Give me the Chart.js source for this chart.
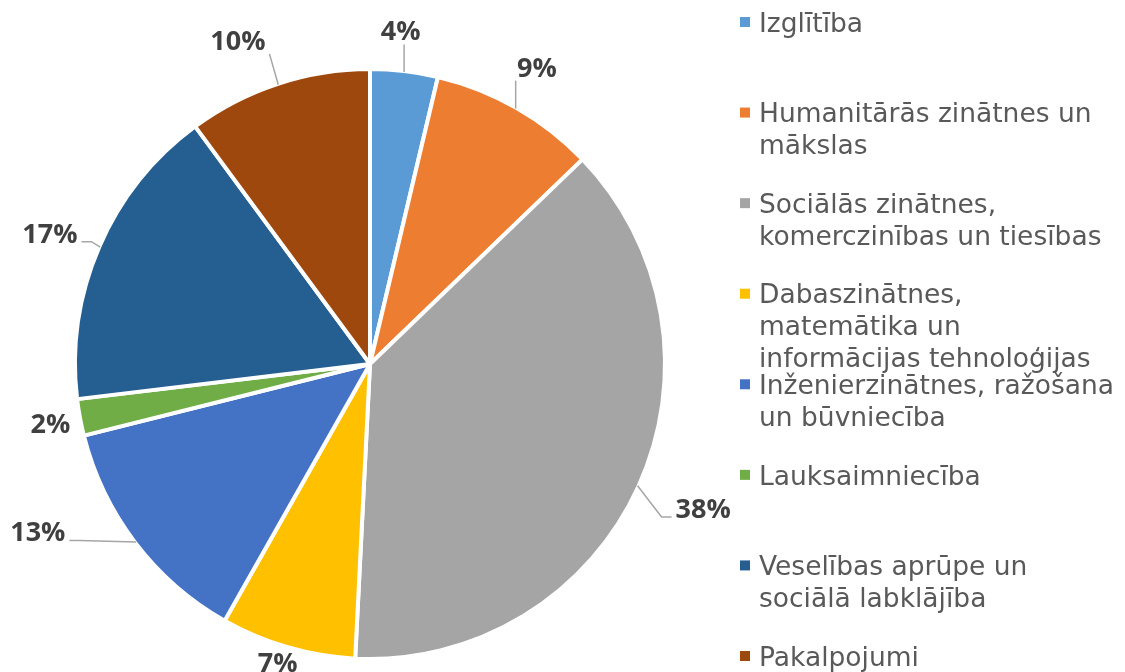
<!DOCTYPE html>
<html>
<head>
<meta charset="utf-8">
<script src="https://cdn.jsdelivr.net/npm/chart.js@4"></script>
<style>
  body { margin: 0; background: #fff; }
  #wrap { width: 1125px; height: 672px; }
</style>
</head>
<body>
<div id="wrap"><canvas id="pie"></canvas></div>
<script>
// ---------- data ----------
const categories = [
  "Izglītība",
  "Humanitārās zinātnes un mākslas",
  "Sociālās zinātnes, komerczinības un tiesības",
  "Dabaszinātnes, matemātika un informācijas tehnoloģijas",
  "Inženierzinātnes, ražošana un būvniecība",
  "Lauksaimniecība",
  "Veselības aprūpe un sociālā labklājība",
  "Pakalpojumi",
];
const shares = [3.7, 9.1, 38.0, 7.4, 12.9, 2.0, 16.8, 10.1];
const colors = ["#5B9BD5", "#ED7D31", "#A5A5A5", "#FFC000", "#4472C4", "#70AD47", "#255E91", "#9E480E"];

// label placement (distance outside the pie, angle shift in degrees)
const labelOut = [42, 48, 70, 19, 79, 32, 53, 57];
const labelShift = [-1.4, -0.4, -1.1, 1.0, 10.5, 0, -1.1, -4.0];

// ---------- percent labels with leader lines ----------
const pctLabels = {
  id: "pctLabels",
  afterDatasetsDraw(chart) {
    const ctx = chart.ctx;
    const total = shares.reduce((a, v) => a + v, 0);
    const meta = chart.getDatasetMeta(0);
    ctx.save();
    ctx.font = "bold 27px 'Open Sans'";
    ctx.textAlign = "center";
    ctx.textBaseline = "alphabetic";
    meta.data.forEach((arc, i) => {
      const { x, y, startAngle, endAngle, outerRadius } = arc.getProps(["x", "y", "startAngle", "endAngle", "outerRadius"], true);
      const r = outerRadius - 2;
      const mid = (startAngle + endAngle) / 2;
      const a = mid + (labelShift[i] * Math.PI) / 180;
      const cx = x + Math.cos(a) * (r + labelOut[i]);
      const cy = y + Math.sin(a) * (r + labelOut[i]);
      const txt = Math.round((shares[i] / total) * 100) + "%";
      const w = ctx.measureText(txt).width;

      if (labelOut[i] > 38) {
        const px = x + Math.cos(mid) * (r + 1);
        const py = y + Math.sin(mid) * (r + 1);
        ctx.strokeStyle = "#A6A6A6";
        ctx.lineWidth = 1.5;
        ctx.beginPath();
        ctx.moveTo(px, py);
        if (Math.abs(cx - px) > Math.abs(cy - py)) {
          const dir = cx > px ? -1 : 1;
          const ex = cx + dir * (w / 2 + 4);
          const ey = cy + 9;
          ctx.lineTo(ex + dir * 10, ey);
          ctx.lineTo(ex, ey);
        } else {
          const ex = Math.min(Math.max(px, cx - w / 2 - 4), cx + w / 2 + 4);
          const ey = cy > py ? cy - 14 : cy + 14;
          ctx.lineTo(ex, ey);
        }
        ctx.stroke();
      }
      ctx.fillStyle = "#404040";
      ctx.fillText(txt, cx, cy + 10);
    });
    ctx.restore();
  },
};

// ---------- legend on the right ----------
const sideLegend = {
  id: "sideLegend",
  afterDraw(chart) {
    const ctx = chart.ctx;
    ctx.save();
    ctx.font = "26.5px 'DejaVu Sans'";
    ctx.textAlign = "left";
    ctx.textBaseline = "alphabetic";
    const top = 22, step = (656 - 22) / (categories.length - 1), lineH = 32, maxW = 365;
    categories.forEach((name, i) => {
      const lines = [];
      let cur = "";
      name.split(" ").forEach((word) => {
        const test = cur ? cur + " " + word : word;
        if (cur && ctx.measureText(test).width > maxW) {
          lines.push(cur);
          cur = word;
        } else cur = test;
      });
      lines.push(cur);
      const cy = top + i * step;
      ctx.fillStyle = colors[i];
      ctx.fillRect(740, cy - 5, 10, 10);
      ctx.fillStyle = "#595959";
      lines.forEach((ln, k) => ctx.fillText(ln, 759, cy + 9.7 + k * lineH));
    });
    ctx.restore();
  },
};

new Chart(document.getElementById("pie"), {
  type: "pie",
  data: {
    labels: categories,
    datasets: [{
      data: shares,
      backgroundColor: colors,
      borderColor: "#ffffff",
      borderWidth: 4,
      hoverOffset: 0,
    }],
  },
  options: {
    responsive: true,
    maintainAspectRatio: false,
    animation: false,
    layout: { padding: { left: 73, right: 458, top: 67, bottom: 11 } },
    plugins: { legend: { display: false }, tooltip: { enabled: false } },
  },
  plugins: [pctLabels, sideLegend],
});
</script>
</body>
</html>
